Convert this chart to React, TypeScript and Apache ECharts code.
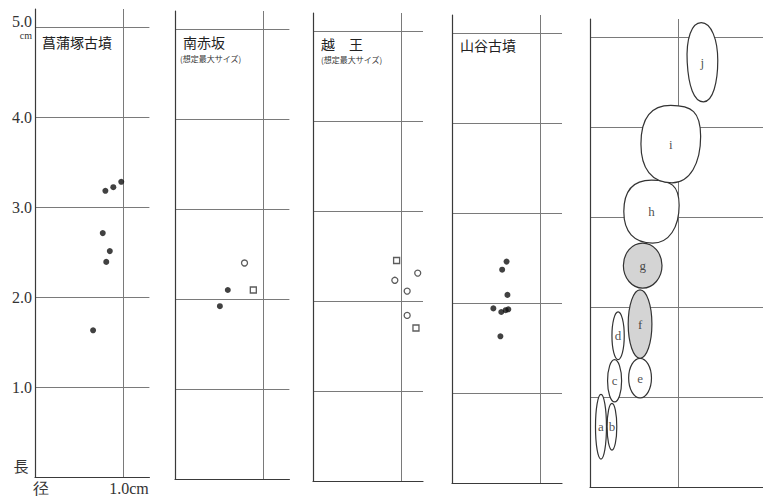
import React, { useEffect, useRef } from "react";
import * as echarts from "echarts";

// ---- data (cm) ----
const panelTitles = ["菖蒲塚古墳", "南赤坂", "越\u3000王", "山谷古墳", ""];
const panelSubtitles = ["", "(想定最大サイズ)", "(想定最大サイズ)", "", ""];
const yTickLabels = ["1.0", "2.0", "3.0", "4.0", "5.0"];
const xTickLabels = ["径", "1.0cm"];

// [diameter, length]
const shoubuzukaFilled = [[0.80, 3.18], [0.89, 3.22], [0.98, 3.28], [0.77, 2.71], [0.85, 2.51], [0.81, 2.39], [0.66, 1.63]];
const minamiakasakaFilled = [[0.60, 2.10], [0.51, 1.92]];
const minamiakasakaOpenCircle = [[0.79, 2.40]];
const minamiakasakaOpenSquare = [[0.89, 2.10]];
const koshiouOpenCircle = [[1.19, 2.31], [0.93, 2.23], [1.07, 2.11], [1.07, 1.84]];
const koshiouOpenSquare = [[0.95, 2.45], [1.17, 1.70]];
const yamayaFilled = [[0.62, 2.46], [0.57, 2.37], [0.63, 2.09], [0.47, 1.94], [0.56, 1.90], [0.61, 1.92], [0.64, 1.93], [0.55, 1.63]];

// bead outlines in panel 5
const beadLabels = ["a", "b", "c", "d", "e", "f", "g", "h", "i", "j"];
const beadCenterX = [0.125, 0.25, 0.28, 0.32, 0.57, 0.57, 0.60, 0.70, 0.92, 1.28];
const beadCenterY = [0.67, 0.67, 1.18, 1.68, 1.21, 1.81, 2.46, 3.06, 3.81, 4.72];
const beadWidth = [0.125, 0.11, 0.16, 0.14, 0.26, 0.27, 0.44, 0.63, 0.68, 0.35];
const beadHeight = [0.72, 0.52, 0.47, 0.53, 0.44, 0.76, 0.50, 0.70, 0.86, 0.88];
const beadShaded = [0, 0, 0, 0, 0, 1, 1, 0, 0, 0];
const beadShape = ["oval", "oval", "oval", "oval", "oval", "oval", "oval", "blob", "blob", "tear"];

const SHAPES: Record<string, string> = {
  oval: "M50,0 C77.6,0 100,22.4 100,50 C100,77.6 77.6,100 50,100 C22.4,100 0,77.6 0,50 C0,22.4 22.4,0 50,0 Z",
  blob: "M50,0 C85,0 100,8 100,40 C100,75 82,100 52,100 C18,100 0,82 0,50 C0,15 18,0 50,0 Z",
  tear: "M48,0 C80,0 100,22 100,48 C100,75 85,100 55,100 C25,100 8,80 4,50 C0,20 18,0 48,0 Z",
};

const SERIF = "'Liberation Serif', 'DejaVu Serif', serif";
const CJK = "'Noto Sans CJK JP', sans-serif";
const AXIS_COLOR = "#3a3a3a";
const GRID_COLOR = "#7a7a7a";

const panels = [
  { left: 35, top: 9, width: 114.4, xMax: 1.3 },
  { left: 175, top: 11, width: 114.4, xMax: 1.3 },
  { left: 313, top: 13, width: 110, xMax: 1.25 },
  { left: 452, top: 15, width: 110, xMax: 1.25 },
  { left: 590, top: 19, width: 173, xMax: 1.97 },
];
const Y_MAX = 5.2;
const PANEL_HEIGHT = 468;

export default function App() {
  const ref = useRef<HTMLDivElement>(null);
  useEffect(() => {
    if (!ref.current) return;
    document.body.style.margin = "0";
    const chart = echarts.init(ref.current, null, { renderer: "svg" });

    const grids = panels.map((p) => ({ left: p.left, top: p.top, width: p.width, height: PANEL_HEIGHT, containLabel: false }));

    const xAxes = panels.map((p, i) => ({
      type: "value",
      gridIndex: i,
      min: 0,
      max: p.xMax,
      interval: 1,
      axisLine: { show: true, lineStyle: { color: AXIS_COLOR, width: 1.2 } },
      axisTick: { show: false },
      splitLine: { show: true, showMinLine: false, showMaxLine: false, lineStyle: { color: GRID_COLOR, width: 1 } },
      axisLabel: i === 0
        ? {
            show: true,
            margin: 3,
            fontFamily: SERIF,
            fontSize: 16,
            color: "#333",
            padding: [0, 0, 0, 12],
            formatter: (v: number) => (v === 0 ? xTickLabels[0] : v === 1 ? xTickLabels[1] : ""),
          }
        : { show: false },
    }));

    const yAxes = panels.map((p, i) => ({
      type: "value",
      gridIndex: i,
      min: 0,
      max: Y_MAX,
      interval: 1,
      axisLine: { show: true, onZero: false, lineStyle: { color: AXIS_COLOR, width: 1.2 } },
      axisTick: { show: false },
      splitLine: { show: true, showMinLine: false, showMaxLine: false, lineStyle: { color: GRID_COLOR, width: 1 } },
      axisLabel: i === 0
        ? {
            show: true,
            margin: 3,
            fontFamily: SERIF,
            fontSize: 16,
            color: "#333",
            formatter: (v: number) => {
              if (Math.abs(v - 5) < 1e-6) return "{a|" + yTickLabels[4] + "}\n{b|cm}";
              if (v >= 1 && v <= 4 && Number.isInteger(v)) return yTickLabels[v - 1];
              return "";
            },
            rich: {
              a: { fontFamily: SERIF, fontSize: 16, color: "#333", align: "right", lineHeight: 16 },
              b: { fontFamily: SERIF, fontSize: 10, color: "#333", align: "right", lineHeight: 11 },
            },
          }
        : { show: false },
    }));

    const filled = (data: number[][], i: number) => ({
      type: "scatter",
      xAxisIndex: i,
      yAxisIndex: i,
      data,
      symbol: "circle",
      symbolSize: 6,
      itemStyle: { color: "#111" },
    });
    const openCircle = (data: number[][], i: number) => ({
      type: "scatter",
      xAxisIndex: i,
      yAxisIndex: i,
      data,
      symbol: "circle",
      symbolSize: 6,
      itemStyle: { color: "#fff", borderColor: "#333", borderWidth: 1.3 },
    });
    const openSquare = (data: number[][], i: number) => ({
      type: "scatter",
      xAxisIndex: i,
      yAxisIndex: i,
      data,
      symbol: "rect",
      symbolSize: 6,
      itemStyle: { color: "#fff", borderColor: "#333", borderWidth: 1.3 },
    });

    const beadData = beadLabels.map((_, k) => [beadCenterX[k], beadCenterY[k], beadWidth[k], beadHeight[k], beadShaded[k]]);

    const beadSeries = {
      type: "custom",
      xAxisIndex: 4,
      yAxisIndex: 4,
      data: beadData,
      encode: { x: 0, y: 1 },
      itemStyle: { color: "#222" },
      renderItem: (params: any, api: any) => {
        const k = params.dataIndex;
        const c = api.coord([api.value(0), api.value(1)]);
        const s = api.size([api.value(2), api.value(3)]);
        const shaded = api.value(4) === 1;
        return {
          type: "path",
          shape: {
            pathData: SHAPES[beadShape[k]],
            x: c[0] - s[0] / 2,
            y: c[1] - s[1] / 2,
            width: s[0],
            height: s[1],
            layout: "cover",
          },
          style: { fill: shaded ? "#d4d4d4" : "#ffffff", stroke: "#333", lineWidth: 1.2 },
        };
      },
    };

    const beadLabelSeries = {
      type: "scatter",
      xAxisIndex: 4,
      yAxisIndex: 4,
      data: beadLabels.map((_, k) => [beadCenterX[k], beadCenterY[k]]),
      symbol: "circle",
      symbolSize: 1,
      itemStyle: { color: "rgba(0,0,0,0)" },
      silent: true,
      z: 5,
      label: {
        show: true,
        position: "inside",
        formatter: (p: any) => beadLabels[p.dataIndex],
        fontFamily: SERIF,
        fontSize: 13,
        color: "#222",
      },
    };

    const titleGraphics: any[] = [];
    const titlePos = [
      { x: 42, y: 42 },
      { x: 183, y: 42 },
      { x: 321, y: 44 },
      { x: 460, y: 45 },
      { x: 600, y: 45 },
    ];
    const subPos = [
      { x: 0, y: 0 },
      { x: 180, y: 58 },
      { x: 321, y: 59 },
      { x: 0, y: 0 },
      { x: 0, y: 0 },
    ];
    panelTitles.forEach((t, i) => {
      if (t) {
        titleGraphics.push({
          type: "text",
          x: titlePos[i].x,
          y: titlePos[i].y,
          style: { text: t, fontFamily: CJK, fontSize: 14, fill: "#222", align: "left", verticalAlign: "middle" },
        });
      }
      if (panelSubtitles[i]) {
        titleGraphics.push({
          type: "text",
          x: subPos[i].x,
          y: subPos[i].y,
          style: { text: panelSubtitles[i], fontFamily: CJK, fontSize: 8, fill: "#333", align: "left", verticalAlign: "middle" },
        });
      }
    });
    titleGraphics.push({
      type: "text",
      x: 21,
      y: 465,
      style: { text: "長", fontFamily: CJK, fontSize: 15, fill: "#333", align: "center", verticalAlign: "middle" },
    });

    chart.setOption({
      animation: false,
      backgroundColor: "#ffffff",
      grid: grids,
      xAxis: xAxes,
      yAxis: yAxes,
      series: [
        filled(shoubuzukaFilled, 0),
        filled(minamiakasakaFilled, 1),
        openCircle(minamiakasakaOpenCircle, 1),
        openSquare(minamiakasakaOpenSquare, 1),
        openCircle(koshiouOpenCircle, 2),
        openSquare(koshiouOpenSquare, 2),
        filled(yamayaFilled, 3),
        beadSeries,
        beadLabelSeries,
      ],
      graphic: titleGraphics,
    });

    return () => chart.dispose();
  }, []);

  return <div ref={ref} style={{ width: 763, height: 496 }} />;
}
